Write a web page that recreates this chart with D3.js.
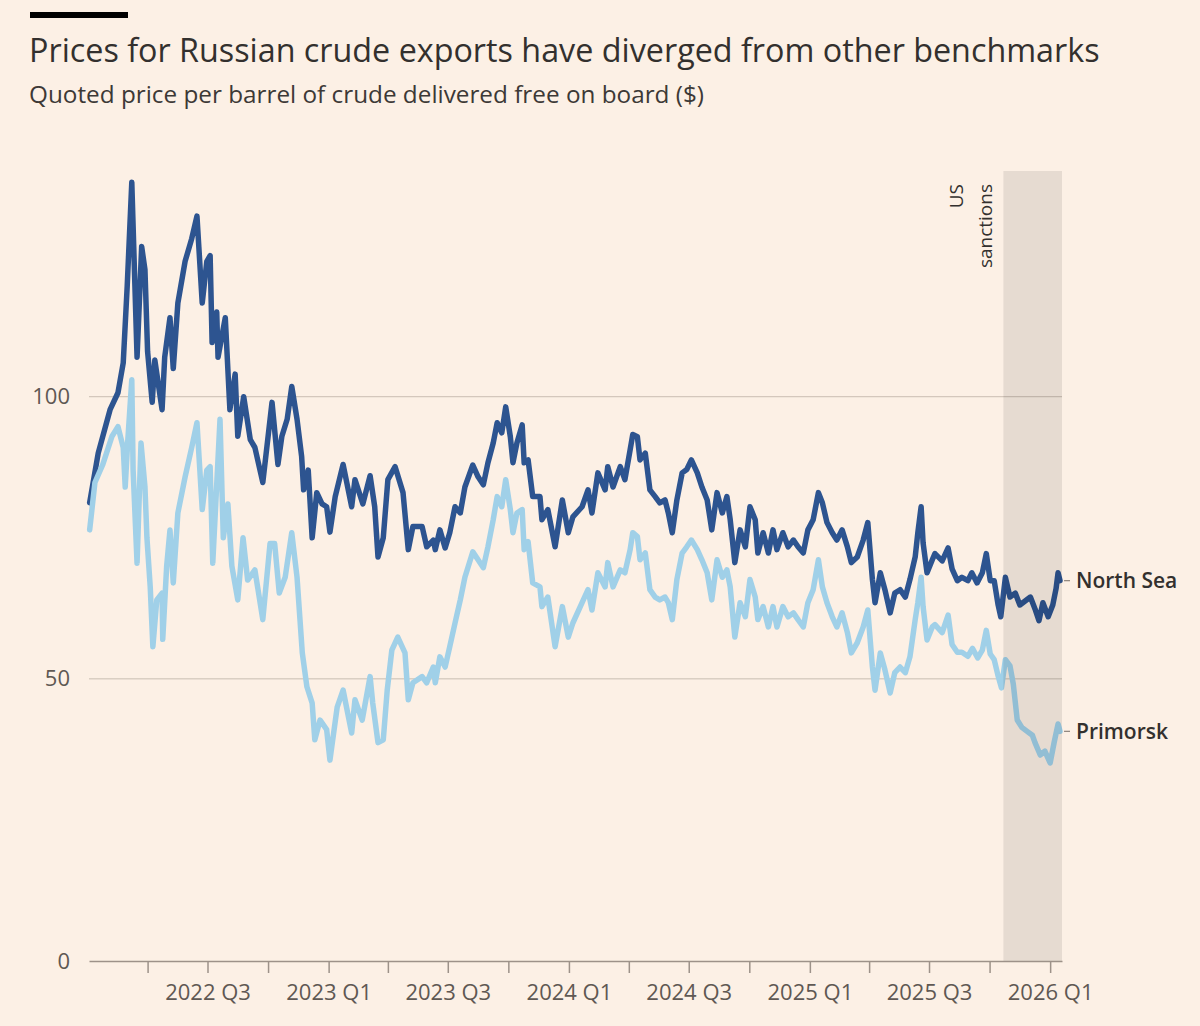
<!DOCTYPE html>
<html>
<head>
<meta charset="utf-8">
<script src="https://cdn.jsdelivr.net/npm/d3@7"></script>
<style>
    body { margin: 0; background: #fcf0e5; }
    svg { display: block; font-family: "Open Sans", "Noto Sans", sans-serif; }
</style>
</head>
<body>
<svg id="chart"></svg>
<script>
// Quoted prices ($/barrel)
const northSea = [
    ["2022-01-03", 81.2], ["2022-01-16", 90], ["2022-02-03", 97.7], ["2022-02-15", 100.7], ["2022-02-23", 106],
    ["2022-03-01", 119.5], ["2022-03-08", 138], ["2022-03-16", 107], ["2022-03-23", 126.6], ["2022-03-28", 122.5],
    ["2022-04-01", 108], ["2022-04-08", 99], ["2022-04-12", 106.5], ["2022-04-23", 97.7], ["2022-04-27", 107],
    ["2022-05-05", 114], ["2022-05-10", 105], ["2022-05-17", 116.6], ["2022-05-28", 124], ["2022-06-07", 128],
    ["2022-06-15", 132], ["2022-06-23", 116.6], ["2022-06-30", 124], ["2022-07-05", 125], ["2022-07-08", 109.6],
    ["2022-07-15", 115], ["2022-07-17", 107], ["2022-07-28", 114], ["2022-08-04", 97.7], ["2022-08-12", 104],
    ["2022-08-16", 93], ["2022-08-25", 100], ["2022-09-04", 92.4], ["2022-09-11", 91], ["2022-09-23", 84.8],
    ["2022-10-07", 99], ["2022-10-16", 88], ["2022-10-22", 93], ["2022-10-30", 96], ["2022-11-06", 101.8],
    ["2022-11-14", 96], ["2022-11-21", 89.4], ["2022-11-24", 83.5], ["2022-12-01", 87], ["2022-12-07", 75],
    ["2022-12-14", 83], ["2022-12-22", 81], ["2022-12-29", 80.5], ["2023-01-03", 76], ["2023-01-11", 82.3],
    ["2023-01-23", 88], ["2023-02-05", 80.5], ["2023-02-10", 85.3], ["2023-02-22", 81], ["2023-03-05", 86],
    ["2023-03-12", 80.5], ["2023-03-17", 71.6], ["2023-03-25", 75], ["2023-04-01", 85.3], ["2023-04-12", 87.6],
    ["2023-04-24", 83], ["2023-05-02", 72.9], ["2023-05-09", 77], ["2023-05-23", 77], ["2023-05-30", 73.4],
    ["2023-06-09", 74.6], ["2023-06-12", 72.9], ["2023-06-19", 76.4], ["2023-06-27", 73.2], ["2023-07-04", 75.9],
    ["2023-07-12", 80.5], ["2023-07-20", 79.4], ["2023-07-27", 84], ["2023-08-08", 87.9], ["2023-08-16", 85.8],
    ["2023-08-24", 84.4], ["2023-08-31", 88.3], ["2023-09-08", 91.8], ["2023-09-14", 95.4], ["2023-09-21", 93.6],
    ["2023-09-27", 98.2], ["2023-10-04", 92.9], ["2023-10-08", 88.3], ["2023-10-14", 91.8], ["2023-10-22", 95],
    ["2023-10-25", 88.3], ["2023-10-31", 88.8], ["2023-11-07", 82.3], ["2023-11-18", 82.3], ["2023-11-21", 78.2],
    ["2023-11-30", 80], ["2023-12-11", 73.4], ["2023-12-22", 81.7], ["2023-12-31", 75.9], ["2024-01-07", 78.7],
    ["2024-01-21", 80.5], ["2024-01-30", 83.5], ["2024-02-05", 79.4], ["2024-02-14", 86.5], ["2024-02-25", 83.5],
    ["2024-02-29", 87.6], ["2024-03-08", 84], ["2024-03-19", 87.6], ["2024-03-26", 85.3], ["2024-04-03", 90.6],
    ["2024-04-07", 93.3], ["2024-04-14", 92.9], ["2024-04-18", 88.8], ["2024-04-26", 90], ["2024-05-03", 83.5],
    ["2024-05-11", 82.3], ["2024-05-18", 81.2], ["2024-05-26", 81.7], ["2024-05-31", 79.4], ["2024-06-06", 75.9],
    ["2024-06-13", 81.7], ["2024-06-21", 86.5], ["2024-06-28", 87.1], ["2024-07-05", 88.8], ["2024-07-14", 86.5],
    ["2024-07-21", 84], ["2024-07-29", 81.7], ["2024-08-05", 76.4], ["2024-08-13", 83], ["2024-08-21", 79.4],
    ["2024-08-28", 82.3], ["2024-09-02", 78.2], ["2024-09-09", 70.6], ["2024-09-17", 76.4], ["2024-09-25", 73.4],
    ["2024-10-02", 80.5], ["2024-10-10", 78.2], ["2024-10-14", 72.3], ["2024-10-22", 75.9], ["2024-10-30", 72.3],
    ["2024-11-06", 76.4], ["2024-11-12", 72.9], ["2024-11-21", 75.9], ["2024-11-29", 73.4], ["2024-12-07", 74.6],
    ["2024-12-14", 73.4], ["2024-12-22", 72.3], ["2024-12-29", 76.4], ["2025-01-06", 78.2], ["2025-01-14", 83],
    ["2025-01-20", 81.2], ["2025-01-27", 77.7], ["2025-02-04", 75.9], ["2025-02-11", 74.6], ["2025-02-19", 76.4],
    ["2025-02-27", 73.4], ["2025-03-05", 70.6], ["2025-03-14", 71.6], ["2025-03-23", 74.6], ["2025-03-30", 77.7],
    ["2025-04-06", 67.6], ["2025-04-10", 63.5], ["2025-04-18", 68.8], ["2025-04-25", 65.8], ["2025-05-03", 61.7],
    ["2025-05-10", 65.2], ["2025-05-18", 65.8], ["2025-05-26", 64.5], ["2025-06-02", 67.6], ["2025-06-10", 71.6],
    ["2025-06-14", 75.9], ["2025-06-19", 80.5], ["2025-06-22", 74.1], ["2025-06-28", 68.8], ["2025-07-06", 71.1],
    ["2025-07-10", 72.2], ["2025-07-21", 70.9], ["2025-07-30", 73.2], ["2025-08-05", 69.5], ["2025-08-13", 67.4],
    ["2025-08-20", 68], ["2025-08-29", 67.4], ["2025-09-04", 68.8], ["2025-09-12", 67], ["2025-09-20", 68.8],
    ["2025-09-26", 72.2], ["2025-10-02", 67.4], ["2025-10-08", 67.4], ["2025-10-14", 63.1], ["2025-10-18", 61],
    ["2025-10-25", 68], ["2025-11-01", 64.5], ["2025-11-09", 65.2], ["2025-11-16", 63.1], ["2025-11-24", 63.8],
    ["2025-12-02", 64.5], ["2025-12-09", 62.4], ["2025-12-15", 60.3], ["2025-12-21", 63.5], ["2025-12-29", 61],
    ["2026-01-05", 63.1], ["2026-01-10", 66], ["2026-01-13", 68.8], ["2026-01-16", 67.4]
];

const primorsk = [
    ["2022-01-03", 76.4], ["2022-01-11", 84.8], ["2022-01-23", 88], ["2022-02-06", 93], ["2022-02-15", 94.7],
    ["2022-02-23", 91], ["2022-02-26", 84], ["2022-03-02", 92.4], ["2022-03-08", 103], ["2022-03-10", 87],
    ["2022-03-16", 70.5], ["2022-03-22", 91.8], ["2022-03-28", 84], ["2022-03-31", 75], ["2022-04-05", 66.3],
    ["2022-04-09", 55.7], ["2022-04-15", 64], ["2022-04-23", 65.2], ["2022-04-24", 57], ["2022-04-30", 70],
    ["2022-05-05", 76.4], ["2022-05-10", 67], ["2022-05-17", 79.4], ["2022-05-28", 85.8], ["2022-06-07", 91],
    ["2022-06-15", 95.4], ["2022-06-23", 80], ["2022-06-30", 87], ["2022-07-05", 87.6], ["2022-07-09", 70.5],
    ["2022-07-20", 96], ["2022-07-25", 75], ["2022-08-01", 81], ["2022-08-07", 70], ["2022-08-16", 64],
    ["2022-08-24", 75], ["2022-08-31", 67.5], ["2022-09-11", 69.3], ["2022-09-23", 60.5], ["2022-10-04", 74],
    ["2022-10-11", 74], ["2022-10-18", 65.2], ["2022-10-27", 68], ["2022-11-06", 75.9], ["2022-11-14", 68],
    ["2022-11-22", 54.6], ["2022-11-29", 48.6], ["2022-12-07", 45.7], ["2022-12-11", 39.2], ["2022-12-19", 42.7],
    ["2022-12-29", 41], ["2023-01-03", 35.6], ["2023-01-14", 45], ["2023-01-23", 48], ["2023-02-05", 40.4],
    ["2023-02-10", 46.3], ["2023-02-21", 42.7], ["2023-03-05", 50.4], ["2023-03-09", 45.7], ["2023-03-17", 38.7],
    ["2023-03-25", 39.2], ["2023-03-31", 48], ["2023-04-07", 55.1], ["2023-04-16", 57.4], ["2023-04-27", 54.6],
    ["2023-05-02", 46.3], ["2023-05-09", 49.3], ["2023-05-23", 50.4], ["2023-05-30", 49.3], ["2023-06-09", 52.1],
    ["2023-06-12", 49.3], ["2023-06-19", 53.9], ["2023-06-27", 52.1], ["2023-07-04", 55.7], ["2023-07-12", 59.9],
    ["2023-07-20", 64], ["2023-07-27", 68], ["2023-08-08", 72.5], ["2023-08-16", 71.1], ["2023-08-24", 69.7],
    ["2023-08-31", 73.4], ["2023-09-08", 78.2], ["2023-09-14", 82.3], ["2023-09-21", 80.5], ["2023-09-27", 85.3],
    ["2023-10-04", 80], ["2023-10-08", 75.9], ["2023-10-14", 79.4], ["2023-10-22", 80], ["2023-10-25", 72.9],
    ["2023-10-31", 74.3], ["2023-11-07", 67], ["2023-11-18", 66.3], ["2023-11-21", 62.8], ["2023-11-30", 64.5],
    ["2023-12-11", 55.7], ["2023-12-22", 62.8], ["2023-12-31", 57.4], ["2024-01-07", 59.9], ["2024-01-21", 63.5],
    ["2024-01-30", 65.8], ["2024-02-05", 62.2], ["2024-02-14", 68.8], ["2024-02-25", 66.3], ["2024-02-29", 70.6],
    ["2024-03-08", 66.3], ["2024-03-19", 69.3], ["2024-03-26", 68.8], ["2024-04-03", 72.9], ["2024-04-07", 75.9],
    ["2024-04-14", 75.2], ["2024-04-18", 71.1], ["2024-04-26", 72.3], ["2024-05-03", 65.8], ["2024-05-11", 64.5],
    ["2024-05-18", 64], ["2024-05-26", 64.5], ["2024-05-31", 63.5], ["2024-06-06", 60.5], ["2024-06-13", 67.6],
    ["2024-06-21", 72.3], ["2024-06-28", 73.4], ["2024-07-05", 74.6], ["2024-07-14", 72.9], ["2024-07-21", 71.1],
    ["2024-07-29", 68.8], ["2024-08-05", 64], ["2024-08-13", 71.1], ["2024-08-21", 68], ["2024-08-28", 69.3],
    ["2024-09-02", 66.3], ["2024-09-09", 57.4], ["2024-09-17", 63.5], ["2024-09-25", 61], ["2024-10-02", 67.6],
    ["2024-10-10", 64.5], ["2024-10-14", 60.5], ["2024-10-22", 62.8], ["2024-10-30", 59.2], ["2024-11-06", 62.8],
    ["2024-11-12", 59.2], ["2024-11-21", 62.8], ["2024-11-29", 61], ["2024-12-07", 61.7], ["2024-12-14", 60.5],
    ["2024-12-22", 59.2], ["2024-12-29", 63.5], ["2025-01-06", 65.8], ["2025-01-14", 71.1], ["2025-01-20", 66.3],
    ["2025-01-27", 63.5], ["2025-02-04", 61], ["2025-02-11", 59.2], ["2025-02-19", 61.7], ["2025-02-27", 58.2],
    ["2025-03-05", 54.6], ["2025-03-14", 56.4], ["2025-03-23", 59.2], ["2025-03-30", 62.2], ["2025-04-06", 52.1],
    ["2025-04-10", 48], ["2025-04-18", 54.6], ["2025-04-25", 51.6], ["2025-05-03", 47.5], ["2025-05-10", 51.1],
    ["2025-05-18", 52.1], ["2025-05-26", 51.1], ["2025-06-02", 53.9], ["2025-06-10", 60.5], ["2025-06-14", 63.5],
    ["2025-06-19", 68], ["2025-06-22", 62.8], ["2025-06-28", 56.9], ["2025-07-06", 59.2], ["2025-07-10", 59.6],
    ["2025-07-21", 58.2], ["2025-07-30", 61.3], ["2025-08-05", 56.1], ["2025-08-13", 54.7], ["2025-08-20", 54.7],
    ["2025-08-29", 54], ["2025-09-05", 55.4], ["2025-09-13", 53.7], ["2025-09-20", 55.1], ["2025-09-26", 58.6],
    ["2025-10-02", 54.4], ["2025-10-08", 53.4], ["2025-10-14", 50.5], ["2025-10-19", 48.4], ["2025-10-25", 53.4],
    ["2025-11-01", 52.3], ["2025-11-06", 49.1], ["2025-11-12", 42.7], ["2025-11-19", 41.4], ["2025-11-27", 40.7],
    ["2025-12-05", 40], ["2025-12-09", 38.7], ["2025-12-17", 36.5], ["2025-12-24", 37.2], ["2026-01-01", 35.1],
    ["2026-01-07", 38.7], ["2026-01-13", 42], ["2026-01-16", 40.7]
];

// Axes and annotation
const dateRange = ["2022-01-02", "2026-01-19"];
const yTicks = [0, 50, 100];
const yMax = 140;
const quarterTicks = [
    "2022-04-01", "2022-07-01", "2022-10-01", "2023-01-01", "2023-04-01", "2023-07-01", "2023-10-01", "2024-01-01",
    "2024-04-01", "2024-07-01", "2024-10-01", "2025-01-01", "2025-04-01", "2025-07-01", "2025-10-01", "2026-01-01"
];
const quarterLabels = {
    "2022-07-01": "2022 Q3", "2023-01-01": "2023 Q1", "2023-07-01": "2023 Q3", "2024-01-01": "2024 Q1",
    "2024-07-01": "2024 Q3", "2025-01-01": "2025 Q1", "2025-07-01": "2025 Q3", "2026-01-01": "2026 Q1"
};
const sanctionsStart = "2025-10-22";
const sanctionsLabel = ["US", "sanctions"];

const seriesList = [
    { name: "North Sea", values: northSea, color: "#2d5490" },
    { name: "Primorsk", values: primorsk, color: "#a0d0e8" }
];

const parseDate = d3.timeParse('%Y-%m-%d');
const fmtDate = d3.timeFormat('%Y-%m-%d');

const Chart = {
    svg: null,
    xScale: null,
    yScale: null,
    left: 89,
    right: 1062,
    top: 171,
    bottom: 961,

    render() {
        this.svg = d3.select('#chart')
            .attr('width', 1200)
            .attr('height', 1026);

        this.svg.append('rect')
            .attr('width', 1200)
            .attr('height', 1026)
            .attr('fill', '#fcf0e5');

        this.setupScales();
        this.drawHeader();
        this.drawGrid();
        this.drawLines();
        this.drawSanctions();
        this.drawAxes();
        this.drawLabels();
    },

    setupScales() {
        this.xScale = d3.scaleTime()
            .domain(dateRange.map(parseDate))
            .range([this.left, this.right]);

        this.yScale = d3.scaleLinear()
            .domain([0, yMax])
            .range([this.bottom, this.top]);
    },

    /**
     * Fit a text element to a target width
     */
    fitText(sel, width) {
        const w = sel.node().getComputedTextLength();
        const size = parseFloat(sel.attr('font-size'));
        sel.attr('font-size', (size * width / w).toFixed(2));
    },

    drawHeader() {
        this.svg.append('rect')
            .attr('x', 30).attr('y', 12)
            .attr('width', 98).attr('height', 6)
            .attr('fill', '#000');

        const title = this.svg.append('text')
            .attr('x', 29).attr('y', 62)
            .attr('font-size', 28)
            .attr('fill', '#33302e')
            .text('Prices for Russian crude exports have diverged from other benchmarks');
        this.fitText(title, 1071);

        const subtitle = this.svg.append('text')
            .attr('x', 29).attr('y', 103)
            .attr('font-size', 20)
            .attr('fill', '#3d3936')
            .text('Quoted price per barrel of crude delivered free on board ($)');
        this.fitText(subtitle, 675);
    },

    drawGrid() {
        this.svg.append('g')
            .selectAll('line')
            .data(yTicks.filter(d => d > 0))
            .enter()
            .append('line')
            .attr('x1', this.left)
            .attr('x2', this.right)
            .attr('y1', d => this.yScale(d))
            .attr('y2', d => this.yScale(d))
            .attr('stroke', '#c9bdb2')
            .attr('stroke-width', 1);
    },

    drawLines() {
        const line = d3.line()
            .x(d => this.xScale(parseDate(d[0])))
            .y(d => this.yScale(d[1]));

        this.svg.append('g')
            .selectAll('path')
            .data(seriesList)
            .enter()
            .append('path')
            .attr('d', d => line(d.values))
            .attr('fill', 'none')
            .attr('stroke', d => d.color)
            .attr('stroke-width', 5.5)
            .attr('stroke-linejoin', 'round')
            .attr('stroke-linecap', 'round');
    },

    drawSanctions() {
        const x0 = this.xScale(parseDate(sanctionsStart));

        this.svg.append('rect')
            .attr('x', x0)
            .attr('y', this.yScale(yMax))
            .attr('width', this.right - x0)
            .attr('height', this.yScale(0) - this.yScale(yMax))
            .attr('fill', '#000')
            .attr('opacity', 0.085);

        const note = this.svg.append('g')
            .attr('transform', `translate(${x0 - 11},184) rotate(-90)`);

        note.selectAll('text')
            .data(sanctionsLabel)
            .enter()
            .append('text')
            .attr('x', 0)
            .attr('y', (d, i) => (i - sanctionsLabel.length + 1) * 29)
            .attr('text-anchor', 'end')
            .attr('font-size', 19)
            .attr('fill', '#33302e')
            .text(d => d);
    },

    drawAxes() {
        // X axis (quarters)
        const xAxis = this.svg.append('g')
            .attr('transform', `translate(0,${this.bottom})`)
            .call(d3.axisBottom(this.xScale)
                .tickValues(quarterTicks.map(parseDate))
                .tickSize(12)
                .tickSizeOuter(0)
                .tickPadding(11)
                .tickFormat(d => quarterLabels[fmtDate(d)] || '')
            );
        xAxis.select('.domain').attr('stroke', '#9d9289').attr('stroke-width', 1.5);
        xAxis.selectAll('.tick line').attr('stroke', '#9d9289').attr('stroke-width', 1.5);
        xAxis.selectAll('.tick text')
            .attr('font-size', 22)
            .attr('font-family', '"Open Sans", sans-serif')
            .attr('fill', '#5f5853');

        // Y axis labels
        const yAxis = this.svg.append('g')
            .attr('transform', `translate(${this.left},0)`)
            .call(d3.axisLeft(this.yScale)
                .tickValues(yTicks)
                .tickSize(0)
                .tickPadding(19)
            );
        yAxis.select('.domain').remove();
        yAxis.selectAll('.tick text')
            .attr('font-size', 22)
            .attr('font-family', '"Open Sans", sans-serif')
            .attr('fill', '#5f5853');
    },

    /**
     * Series names at the end of each line
     */
    drawLabels() {
        const g = this.svg.append('g');
        seriesList.forEach(s => {
            const last = s.values[s.values.length - 1];
            const x = this.xScale(parseDate(last[0]));
            const y = this.yScale(last[1]);

            g.append('line')
                .attr('x1', x + 4)
                .attr('x2', x + 10)
                .attr('y1', y)
                .attr('y2', y)
                .attr('stroke', '#8c827a')
                .attr('stroke-width', 1.2);

            g.append('text')
                .attr('x', 1076)
                .attr('y', y)
                .attr('dy', '0.35em')
                .attr('font-size', 21)
                .attr('font-weight', 600)
                .attr('fill', '#33302e')
                .text(s.name);
        });
    }
};

Chart.render();
</script>
</body>
</html>
